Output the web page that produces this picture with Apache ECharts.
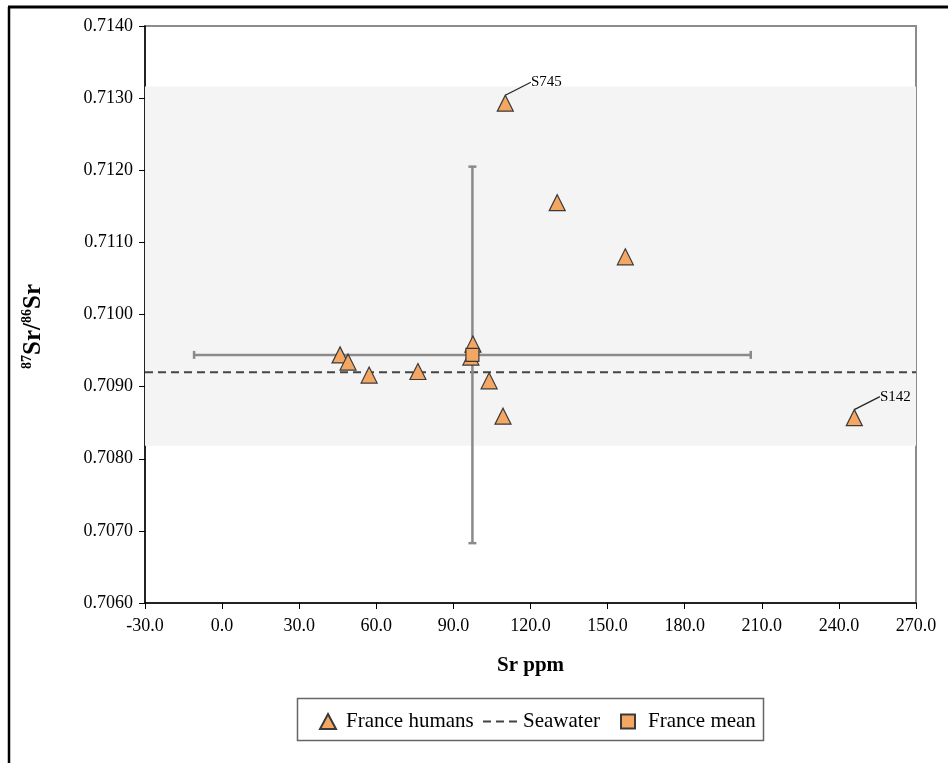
<!DOCTYPE html>
<html><head><meta charset="utf-8">
<script src="https://cdn.jsdelivr.net/npm/echarts@6/dist/echarts.min.js"></script>
<style>html,body{margin:0;padding:0;background:#fff}#c{width:948px;height:763px}</style>
</head><body><div id="c"></div><script>
// France humans
const humansSr    = [110.2, 130.4, 156.9, 45.9, 49.0, 57.2, 76.2, 97.6, 96.8, 103.9, 109.3, 246.0];
const humansRatio = [0.71293, 0.71155, 0.71080, 0.70944, 0.70934, 0.70916, 0.70921, 0.70959, 0.70941, 0.70908, 0.70859, 0.70857];
const humansLabels = ['S745', '', '', '', '', '', '', '', '', '', '', 'S142'];
// Seawater
const seawaterRatio = 0.7092;
// France mean with 1 SD
const meanSr = [97.4];
const meanRatio = [0.70944];
const sdSr = [108.3];
const sdRatio = [0.00261];
// background range
const bandRange = [0.70818, 0.71316];
// axes
const xMin = -30, xMax = 270, xStep = 30;
const yMin = 0.706, yMax = 0.714, yStep = 0.001;

const FONT = "'Liberation Serif','Times New Roman',serif";
const ORANGE = '#f4a663';

const chart = echarts.init(document.getElementById('c'));

const humansData = humansSr.map((x, i) => ({
  value: [x, humansRatio[i]],
  label: humansLabels[i] ? { show: true, formatter: humansLabels[i] } : { show: false },
  labelLine: humansLabels[i] ? { show: true } : { show: false }
}));

const legendText = { fontFamily: FONT, fontSize: 21, color: '#000' };

chart.setOption({
  animation: false,
  backgroundColor: '#fff',
  grid: { left: 145, top: 26, right: 32, bottom: 160, show: true, borderColor: '#8c8c8c', borderWidth: 2, backgroundColor: 'transparent' },
  xAxis: {
    type: 'value', min: xMin, max: xMax, interval: xStep,
    name: 'Sr ppm', nameLocation: 'middle', nameGap: 52,
    nameTextStyle: { fontFamily: FONT, fontSize: 21, fontWeight: 'bold', color: '#000' },
    axisLine: { show: true, onZero: false, lineStyle: { color: '#000', width: 1.5 } },
    axisTick: { show: true, length: 6, lineStyle: { color: '#000' } },
    axisLabel: { fontFamily: FONT, fontSize: 18, color: '#000', margin: 14, formatter: v => v.toFixed(1) },
    splitLine: { show: false }
  },
  yAxis: {
    type: 'value', min: yMin, max: yMax, interval: yStep,
    name: '{s|87}{b|Sr/}{s|86}{b|Sr}', nameLocation: 'middle', nameGap: 97, nameRotate: 90,
    nameTextStyle: {
      padding: [0, 24, 0, 0],
      rich: {
        b: { fontFamily: FONT, fontSize: 25, fontWeight: 'bold', color: '#000', lineHeight: 28 },
        s: { fontFamily: FONT, fontSize: 14, fontWeight: 'bold', color: '#000', lineHeight: 14, verticalAlign: 'top' }
      }
    },
    axisLine: { show: true, onZero: false, lineStyle: { color: '#000', width: 1.5 } },
    axisTick: { show: true, length: 6, lineStyle: { color: '#000' } },
    axisLabel: { fontFamily: FONT, fontSize: 18, color: '#000', margin: 12, formatter: v => v.toFixed(4) },
    splitLine: { show: false }
  },
  legend: [
    { data: ['France humans'], left: 314, top: 706, itemWidth: 16, itemHeight: 15,
      textStyle: Object.assign({ padding: [0, 0, 0, 5] }, legendText) },
    { data: ['Seawater'], left: 477, top: 706, itemWidth: 37, itemHeight: 14,
      textStyle: Object.assign({ padding: [0, 0, 0, -2] }, legendText) },
    { data: ['France mean'], left: 615, top: 706, itemWidth: 14, itemHeight: 14,
      textStyle: Object.assign({ padding: [0, 0, 0, 8] }, legendText) }
  ],
  graphic: [
    { type: 'line', shape: { x1: 8, y1: 7, x2: 948, y2: 7 }, style: { stroke: '#000', lineWidth: 3 }, silent: true },
    { type: 'line', shape: { x1: 9, y1: 7, x2: 9, y2: 763 }, style: { stroke: '#000', lineWidth: 2.5 }, silent: true },
    { type: 'rect', shape: { x: 297.5, y: 698.5, width: 466, height: 42 }, style: { fill: 'none', stroke: '#666', lineWidth: 1.5 }, silent: true }
  ],
  series: [
    {
      name: 'Seawater', type: 'line', symbol: 'none', z: 3,
      data: [[xMin, seawaterRatio], [xMax, seawaterRatio]],
      itemStyle: { color: 'rgba(0,0,0,0)', borderWidth: 0 },
      lineStyle: { color: '#444', width: 2, type: [8, 5] },
      markArea: {
        silent: true,
        itemStyle: { color: '#f4f4f4' },
        data: [[{ yAxis: bandRange[0] }, { yAxis: bandRange[1] }]]
      }
    },
    {
      name: 'errorbars', type: 'custom', z: 4,
      data: meanSr.map((x, i) => [x, meanRatio[i], sdSr[i], sdRatio[i]]),
      renderItem: function (params, api) {
        const x = api.value(0), y = api.value(1), sx = api.value(2), sy = api.value(3);
        const l = api.coord([x - sx, y]), r = api.coord([x + sx, y]);
        const t = api.coord([x, y + sy]), b = api.coord([x, y - sy]);
        const st = { stroke: '#8a8a8a', lineWidth: 2.5 };
        const c = 4;
        return { type: 'group', children: [
          { type: 'line', shape: { x1: l[0], y1: l[1], x2: r[0], y2: r[1] }, style: st },
          { type: 'line', shape: { x1: l[0], y1: l[1] - c, x2: l[0], y2: l[1] + c }, style: st },
          { type: 'line', shape: { x1: r[0], y1: r[1] - c, x2: r[0], y2: r[1] + c }, style: st },
          { type: 'line', shape: { x1: t[0], y1: t[1], x2: b[0], y2: b[1] }, style: st },
          { type: 'line', shape: { x1: t[0] - c, y1: t[1], x2: t[0] + c, y2: t[1] }, style: st },
          { type: 'line', shape: { x1: b[0] - c, y1: b[1], x2: b[0] + c, y2: b[1] }, style: st }
        ]};
      }
    },
    {
      name: 'France humans', type: 'scatter', z: 5,
      symbol: 'triangle', symbolSize: [16, 16],
      itemStyle: { color: ORANGE, borderColor: '#3a3a3a', borderWidth: 1.2, opacity: 1 },
      label: { show: false, position: 'inside', fontFamily: FONT, fontSize: 15, color: '#000' },
      labelLayout: function (p) {
        return { dx: 41, dy: -21 };
      },
      labelLine: { show: false, lineStyle: { color: '#222', width: 1.2 } },
      data: humansData
    },
    {
      name: 'France mean', type: 'scatter', z: 6,
      symbol: 'rect', symbolSize: 13,
      itemStyle: { color: ORANGE, borderColor: '#3a3a3a', borderWidth: 1.2, opacity: 1 },
      data: meanSr.map((x, i) => [x, meanRatio[i]])
    }
  ]
});
</script></body></html>
